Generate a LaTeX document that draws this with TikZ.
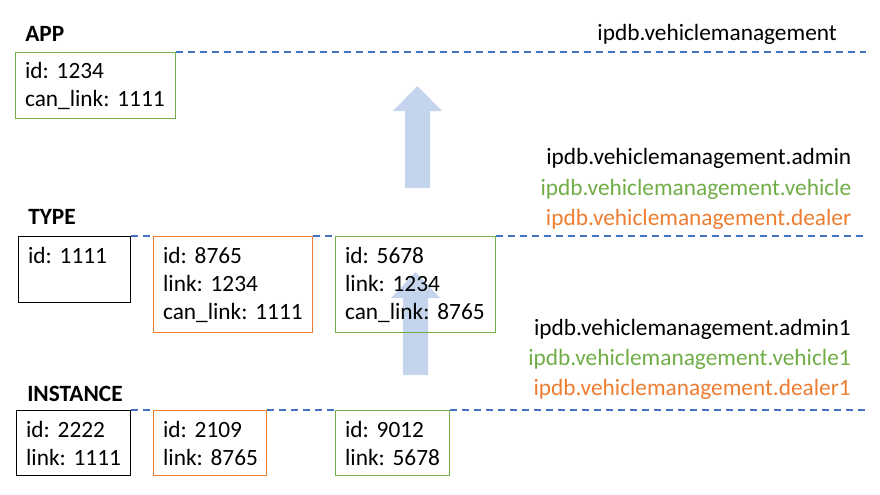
\documentclass[tikz,border=0pt]{standalone}
\usepackage{fontspec}
\setmainfont{Carlito}
\definecolor{boxgreen}{RGB}{112,173,71}
\definecolor{boxorange}{RGB}{237,125,49}
\definecolor{lineblue}{RGB}{68,114,196}
\definecolor{arrowblue}{RGB}{196,212,236}
\tikzset{
  layerbox/.style={draw, line width=1.1pt, anchor=north west, align=left, inner xsep=7pt, inner ysep=0pt,
    font=\fontsize{17.5}{21}\selectfont},
  layerline/.style={draw=lineblue, line width=1pt, dash pattern={on 5.25pt off 3.75pt}},
  layername/.style={anchor=west, inner sep=0pt, font=\fontsize{17.5}{21}\selectfont\bfseries},
  schemaname/.style={anchor=east, inner sep=0pt, font=\fontsize{17.5}{21}\selectfont},
}
\begin{document}
\begin{tikzpicture}[x=0.75pt,y=0.75pt,yscale=-1,xscale=1]
\useasboundingbox (0,0) rectangle (880,494);

%Block Arrows
\fill [arrowblue] (405,188) -- (405,111) -- (393,111) -- (417.5,86) -- (442,111) -- (430,111) -- (430,188) -- cycle ;
\fill [arrowblue] (403,375) -- (403,298) -- (391,298) -- (415.5,272) -- (440,298) -- (428,298) -- (428,375) -- cycle ;

% Boxes
\node [layerbox, draw=boxgreen, text width=106pt, minimum height=49.5pt] (app) at (15,52) {id:~1234\\can\_link:~1111};
\node [layerbox, draw=black, text width=70pt, minimum height=49.5pt] (typeA) at (18,236) {id:~1111\\\mbox{}};
\node [layerbox, draw=boxorange, text width=105.25pt, minimum height=72pt] (typeB) at (153,236) {id:~8765\\link:~1234\\can\_link:~1111};
\node [layerbox, draw=boxgreen, text width=106pt, minimum height=72pt] (typeC) at (335,236) {id:~5678\\link:~1234\\can\_link:~8765};
\node [layerbox, draw=black, text width=71.5pt, minimum height=48.75pt] (instA) at (16,410) {id:~2222\\link:~1111};
\node [layerbox, draw=boxorange, text width=70.75pt, minimum height=48.75pt] (instB) at (153,410) {id:~2109\\link:~8765};
\node [layerbox, draw=boxgreen, text width=71.5pt, minimum height=48.75pt] (instC) at (335,410) {id:~9012\\link:~5678};

%Straight Lines
\draw [layerline] (app.north east) -- (866,52) ;
\draw [layerline] (typeA.north east) -- (typeB.north west) ;
\draw [layerline] (typeB.north east) -- (typeC.north west) ;
\draw [layerline] (typeC.north east) -- (868,236) ;
\draw [layerline] (instA.north east) -- (instB.north west) ;
\draw [layerline] (instB.north east) -- (instC.north west) ;
\draw [layerline] (instC.north east) -- (866,410) ;

% Text Node
\node [layername] (appName) at (25,34) {APP};
\node [layername] (typeName) at (28,217) {TYPE};
\node [layername] (instName) at (27,393.5) {INSTANCE};

% Text Node
\node [schemaname] (appSchema) at (837,34) {ipdb.vehiclemanagement};
\node [schemaname] (typeAdmin) at (851.5,158.5) {ipdb.vehiclemanagement.admin};
\node [schemaname, text=boxgreen] (typeVehicle) at (851.5,189) {ipdb.vehiclemanagement.vehicle};
\node [schemaname, text=boxorange] (typeDealer) at (851.5,219) {ipdb.vehiclemanagement.dealer};
\node [schemaname] (instAdmin) at (851,329.5) {ipdb.vehiclemanagement.admin1};
\node [schemaname, text=boxgreen] (instVehicle) at (851,359.5) {ipdb.vehiclemanagement.vehicle1};
\node [schemaname, text=boxorange] (instDealer) at (851,389.5) {ipdb.vehiclemanagement.dealer1};

\end{tikzpicture}
\end{document}
